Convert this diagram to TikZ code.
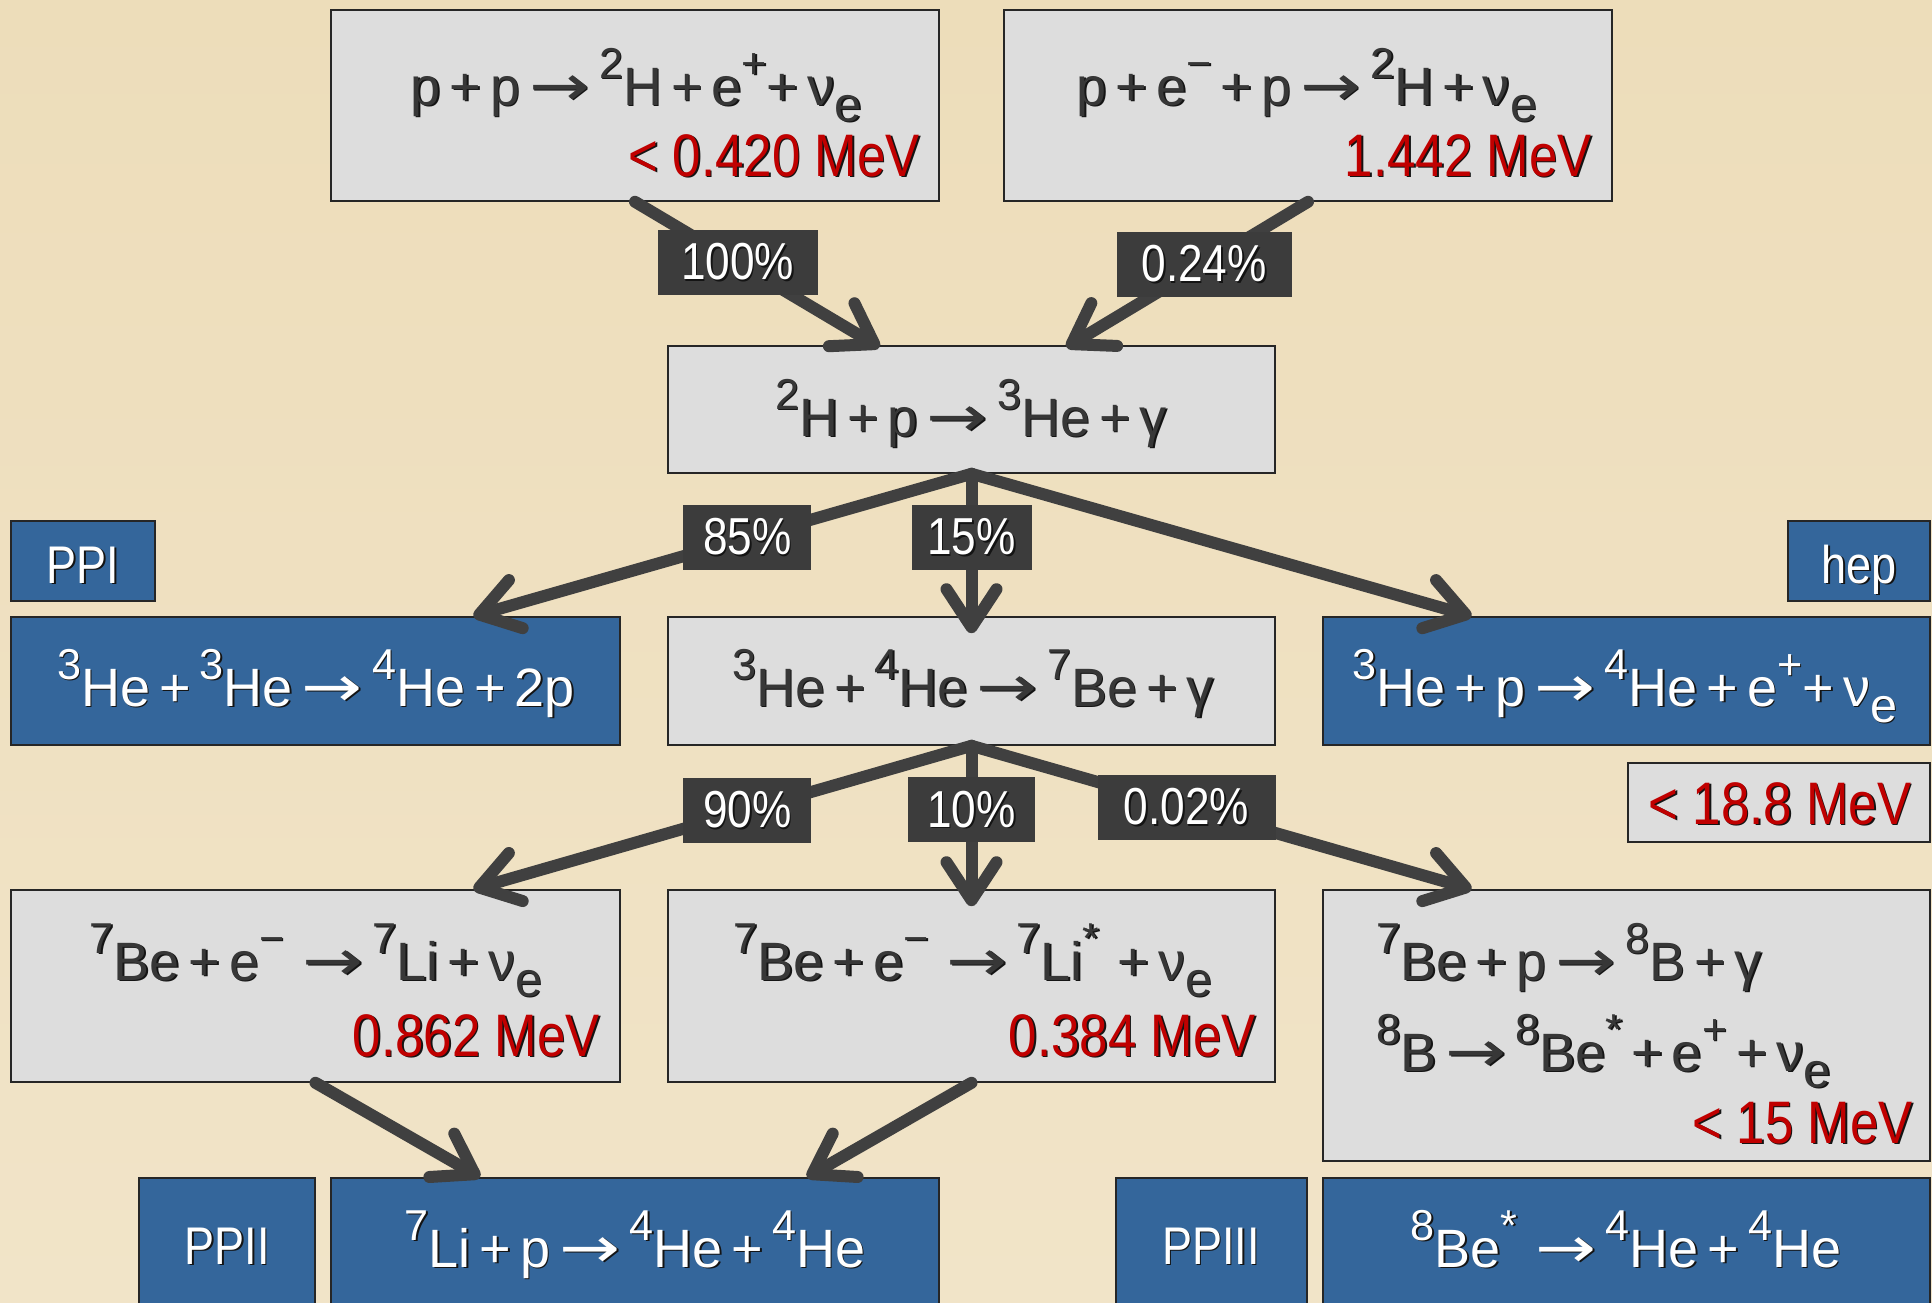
\documentclass[tikz,border=0pt]{standalone}
\usepackage{graphicx}
\usepackage{fontspec}
\setmainfont{Liberation Sans}
\newfontfamily\nf{Liberation Sans}[FakeStretch=0.85]
\newfontfamily\dv{DejaVu Sans}
\usetikzlibrary{arrows.meta,calc}
\definecolor{bg}{RGB}{237,221,186}
\definecolor{bglight}{RGB}{241,228,200}
\definecolor{boxgrey}{RGB}{221,221,221}
\definecolor{boxblue}{RGB}{52,102,155}
\definecolor{lbl}{RGB}{60,60,60}
\definecolor{arrc}{RGB}{64,64,64}
\definecolor{mevred}{RGB}{192,0,0}
\definecolor{eqtext}{RGB}{55,55,55}
\definecolor{shadowc}{RGB}{20,20,20}
\newcommand\su[1]{\raisebox{0.5em}{\scalebox{0.8}{#1}}}
\newcommand\sbs[1]{\raisebox{-0.3em}{\scalebox{0.9}{#1}}}
\newcommand\ar{\,\scalebox{1.35}[1.05]{\dv →}\,}
\newcommand\sh[1]{\leavevmode\rlap{\hspace{0.8pt}\raisebox{-0.8pt}{\color{shadowc}#1}}#1}
\newcommand\bx[6]{\node[#1,minimum width={(#5-#3)*0.5pt},minimum height={(#6-#4)*0.5pt}] (#2) at ({(#3+#5)/2},{(#4+#6)/2}) {};}
\begin{document}
\begin{tikzpicture}[x=0.5pt,y=-0.5pt,
  greybox/.style={draw=black!85,line width=0.8pt,fill=boxgrey,inner sep=0pt},
  bluebox/.style={draw=black!85,line width=0.8pt,fill=boxblue,inner sep=0pt},
  eq/.style={font=\fontsize{27}{31}\selectfont,text=eqtext,inner sep=0pt,anchor=base},
  eqw/.style={eq,text=white},
  mev/.style={font=\nf\fontsize{30}{34}\selectfont,text=mevred,inner sep=0pt,anchor=base east},
  tag/.style={font=\nf\fontsize{26.5}{30}\selectfont,text=white,inner sep=0pt,anchor=base},
  pct/.style={fill=lbl,text=white,font=\nf\fontsize{26}{30}\selectfont,minimum height=32.5pt,inner sep=0pt},
  flow/.style={draw=arrc,line width=6pt,line cap=round,-{Straight Barb[length=19pt,width=25pt,round]}}]
\path[use as bounding box,clip] (0,0) rectangle (1932,1302);
\shade[top color=bg,bottom color=bglight] (0,0) rectangle (1932,1302);
% boxes
\bx{greybox}{b1}{331}{10}{939}{201}
\bx{greybox}{b2}{1004}{10}{1612}{201}
\bx{greybox}{b3}{668}{346}{1275}{473}
\bx{bluebox}{ppil}{11}{521}{155}{601}
\bx{bluebox}{hepl}{1788}{521}{1930}{601}
\bx{bluebox}{r1}{11}{617}{620}{745}
\bx{greybox}{r2}{668}{617}{1275}{745}
\bx{bluebox}{r3}{1323}{617}{1930}{745}
\bx{greybox}{e188}{1628}{763}{1930}{842}
\bx{greybox}{s1}{11}{890}{620}{1082}
\bx{greybox}{s2}{668}{890}{1275}{1082}
\bx{greybox}{s3}{1323}{890}{1930}{1161}
\bx{bluebox}{ppii}{139}{1178}{315}{1330}
\bx{bluebox}{t1}{331}{1178}{939}{1330}
\bx{bluebox}{ppiii}{1116}{1178}{1307}{1330}
\bx{bluebox}{t2}{1323}{1178}{1930}{1330}
% texts
\node[eq] (b1eq) at (636,105) {\sh{p\,+\,p\ar\su{2}H\,+\,e\su{+}+\,ν\sbs{e}}};
\node[mev] (b1m) at (920,176) {\sh{< 0.420 MeV}};
\node[eq] (b2eq) at (1307,105) {\sh{p\,+\,e\su{−}\,+\,p\ar\su{2}H\,+\,ν\sbs{e}}};
\node[mev] (b2m) at (1592,176) {\sh{1.442 MeV}};
\node[eq] (b3eq) at (971,436) {\sh{\su{2}H\,+\,p\ar\su{3}He\,+\,γ}};
\node[tag] (ppit) at (83,583) {\sh{PPI}};
\node[tag] (hept) at (1859,583) {\sh{hep}};
\node[eqw] (r1eq) at (316,706) {\sh{\su{3}He\,+\,\su{3}He\ar\su{4}He\,+\,2p}};
\node[eq] (r2eq) at (973,706) {\sh{\su{3}He\,+\,\su{4}He\ar\su{7}Be\,+\,γ}};
\node[eqw] (r3eq) at (1625,706) {\sh{\su{3}He\,+\,p\ar\su{4}He\,+\,e\su{+}+\,ν\sbs{e}}};
\node[mev,anchor=base] (e188t) at (1780,824) {\sh{< 18.8 MeV}};
\node[eq] (s1eq) at (316,980) {\sh{\su{7}Be\,+\,e\su{−}\,\ar\su{7}Li\,+\,ν\sbs{e}}};
\node[mev] (s1m) at (600,1056) {\sh{0.862 MeV}};
\node[eq] (s2eq) at (973,980) {\sh{\su{7}Be\,+\,e\su{−}\,\ar\su{7}Li\su{*}\,\,+\,ν\sbs{e}}};
\node[mev] (s2m) at (1256,1056) {\sh{0.384 MeV}};
\node[eq,anchor=base west] (s3eq1) at (1376,980) {\sh{\su{7}Be\,+\,p\ar\su{8}B\,+\,γ}};
\node[eq,anchor=base west] (s3eq2) at (1376,1071) {\sh{\su{8}B\ar\su{8}Be\su{*}\,+\,e\su{+}\,+\,ν\sbs{e}}};
\node[mev] (s3m) at (1913,1143) {\sh{< 15 MeV}};
\node[tag] (ppiit) at (227,1264) {\sh{PPII}};
\node[eqw] (t1eq) at (635,1267) {\sh{\su{7}Li\,+\,p\ar\su{4}He\,+\,\su{4}He}};
\node[tag] (ppiiit) at (1211,1264) {\sh{PPIII}};
\node[eqw] (t2eq) at (1626,1267) {\sh{\su{8}Be\su{*}\,\ar\su{4}He\,+\,\su{4}He}};
% arrows
\draw[flow] (b1.south) -- node[pct,pos=0.42,minimum width=80pt] (p100) {\sh{100\%}} ($(b3.north)+(-92,2)$);
\draw[flow] (b2.south) -- node[pct,pos=0.43,minimum width=87.5pt] (p024) {\sh{0.24\%}} ($(b3.north)+(95,2)$);
\draw[flow] (b3.south) -- node[pct,pos=0.45,minimum width=64pt] (p85) {\sh{85\%}} ($(r1.north)+(158,0)$);
\draw[flow] (b3.south) -- node[pct,pos=0.40,minimum width=60pt] (p15) {\sh{15\%}} ($(r2.north)+(0,17)$);
\draw[flow] (b3.south) -- ($(r3.north)+(-155,0)$);
\draw[flow] (r2.south) -- node[pct,pos=0.45,minimum width=64pt] (p90) {\sh{90\%}} ($(s1.north)+(158,0)$);
\draw[flow] (r2.south) -- node[pct,pos=0.40,minimum width=63.5pt] (p10) {\sh{10\%}} ($(s2.north)+(0,17)$);
\draw[flow] (r2.south) -- node[pct,pos=0.43,minimum width=89pt] (p002) {\sh{0.02\%}} ($(s3.north)+(-155,0)$);
\draw[flow] (s1.south) -- ($(t1.north)+(-155,0)$);
\draw[flow] (s2.south) -- ($(t1.north)+(172,0)$);
\end{tikzpicture}
\end{document}
